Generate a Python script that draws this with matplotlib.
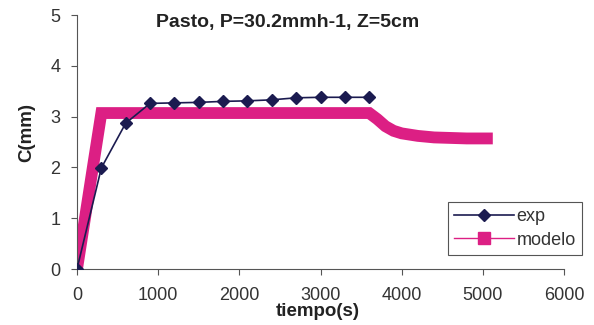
import matplotlib
matplotlib.use("Agg")
import matplotlib.pyplot as plt
from matplotlib.lines import Line2D

plt.rcParams['font.family'] = ['Liberation Sans', 'DejaVu Sans']

# experimental points
t_exp = [0, 300, 600, 900, 1200, 1500, 1800, 2100, 2400, 2700, 3000, 3300, 3600]
c_exp = [0, 1.99, 2.87, 3.26, 3.27, 3.28, 3.30, 3.31, 3.33, 3.37, 3.38, 3.38, 3.38]

# model curve
t_mod = [0, 100, 200, 300, 600, 900, 1200, 1500, 1800, 2100, 2400, 2700, 3000,
         3300, 3600, 3700, 3800, 3900, 4000, 4200, 4400, 4600, 4800, 5050]
c_mod = [0, 1.02, 2.05, 3.07, 3.07, 3.07, 3.07, 3.07, 3.07, 3.07, 3.07, 3.07, 3.07,
         3.07, 3.07, 2.95, 2.81, 2.72, 2.67, 2.62, 2.59, 2.58, 2.57, 2.57]

title = "Pasto, P=30.2mmh-1, Z=5cm"
xticks = [0, 1000, 2000, 3000, 4000, 5000, 6000]
yticks = [0, 1, 2, 3, 4, 5]

navy = '#1b1b50'
pink = '#dc1f84'

fig = plt.figure(figsize=(5.94, 3.25), dpi=100)
ax = fig.add_axes([77/594, 56/325, (564-77)/594, (269-15)/325])

# thick band drawn by the dense markers of the original chart
ax.plot(t_mod, c_mod, color=pink, lw=8.5,
        solid_joinstyle='miter', solid_capstyle='projecting', zorder=2)
ax.plot(t_exp, c_exp, color=navy, lw=1.2, marker='D', ms=6.5, zorder=3)

ax.set_xlim(0, 6000)
ax.set_ylim(0, 5)
ax.set_xticks(xticks)
ax.set_yticks(yticks)
ax.spines['top'].set_visible(False)
ax.spines['right'].set_visible(False)
for s in ['left', 'bottom']:
    ax.spines[s].set_color('#555555')
    ax.spines[s].set_linewidth(0.8)
ax.tick_params(direction='out', length=4, width=0.8, color='#555555',
               labelsize=13, labelcolor='#333333')
ax.tick_params(axis='x', pad=9)
ax.tick_params(axis='y', pad=8)

ax.set_xlabel("tiempo(s)", fontsize=13.5, fontweight='bold', color='#222222')
ax.xaxis.set_label_coords((318-77)/487, -(303-269)/254)
ax.set_ylabel("C(mm)", fontsize=13.5, fontweight='bold', color='#222222')
ax.yaxis.set_label_coords(-(77-35)/487, (269-133)/254)

fig.text(288/594, 1-22/325, title, ha='center', va='center',
         fontsize=14, fontweight='bold', color='#222222')

handles = [
    Line2D([], [], color=navy, lw=1.2, marker='D', ms=6.5),
    Line2D([], [], color=pink, lw=1.0, marker='s', ms=8.5),
]
leg = fig.legend(handles, ['exp', 'modelo'], loc='upper left',
                 bbox_to_anchor=(448/594, 1-202/325), borderaxespad=0,
                 fontsize=13, handlelength=3.3, handletextpad=0.15,
                 labelspacing=0.35, borderpad=0.35, fancybox=False,
                 framealpha=1, edgecolor='#555555')
leg.get_frame().set_linewidth(0.8)
for txt in leg.get_texts():
    txt.set_color('#333333')

fig.savefig("out.png", dpi=100)
